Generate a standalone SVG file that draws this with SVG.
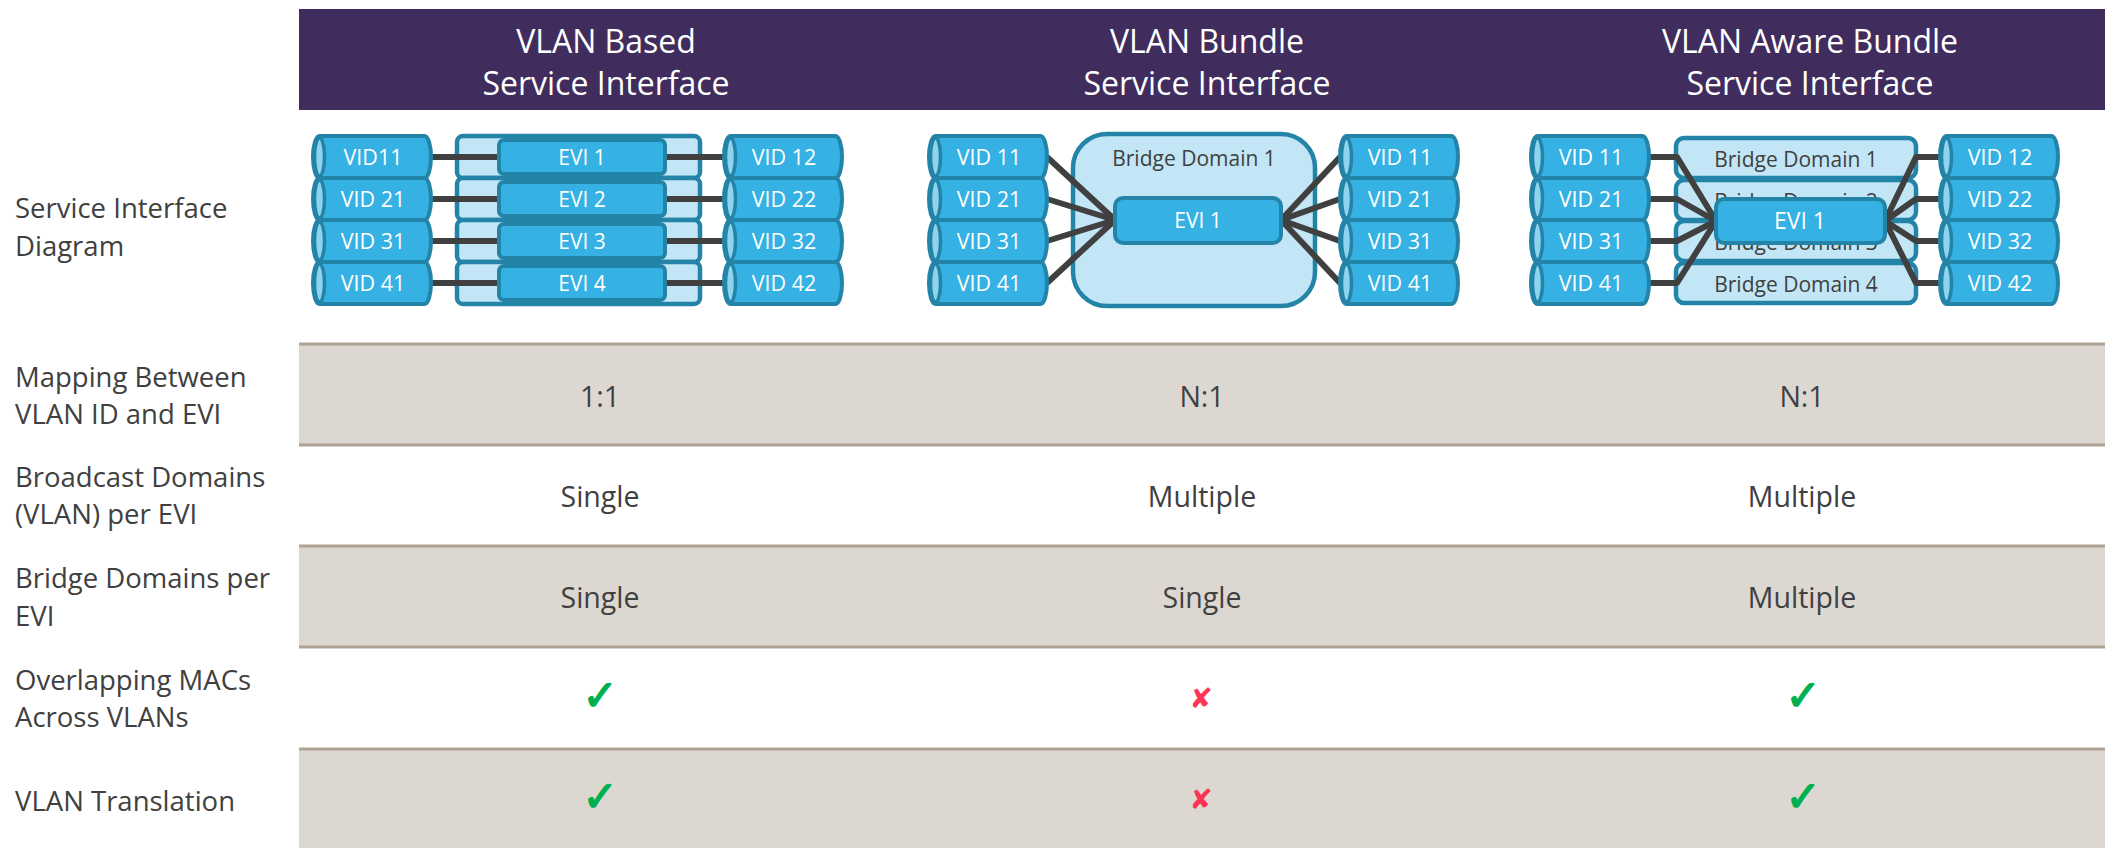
<svg xmlns="http://www.w3.org/2000/svg" width="2112" height="848" viewBox="0 0 2112 848">
<style>
text{font-family:"Open Sans","Liberation Sans",sans-serif;}
.hd{fill:#fff;font-size:32px;text-anchor:middle}
.lb{fill:#404040;font-size:27.5px}
.val{fill:#404040;font-size:28.5px;text-anchor:middle}
.vid{fill:#fff;font-size:21.5px;text-anchor:middle}
.evi{fill:#fff;font-size:21px;text-anchor:middle}
.evb{fill:#fff;font-size:23px;text-anchor:middle}
.bdt{fill:#404040;font-size:21px;text-anchor:middle}
.cyl{fill:#35B1E3;stroke:#2384A8;stroke-width:4}
.cap{fill:#8FD4EF;stroke:#2384A8;stroke-width:3.5}
.box{fill:#C2E6F5;stroke:#2384A8;stroke-width:4.5}
.ebox{fill:#35B1E3;stroke:#2384A8;stroke-width:4}
.ln{stroke:#404040;stroke-width:6;fill:none;stroke-linejoin:round}
.row{fill:#DCD8D1}
.rl{stroke:#AEA294;stroke-width:3}
.ok{fill:#00B050;stroke:#00B050;stroke-width:1.6;font-family:"DejaVu Sans",sans-serif;font-size:42px;text-anchor:middle}
.no{fill:#FF3355;font-family:"DejaVu Sans",sans-serif;font-size:28px;text-anchor:middle}
</style>
<defs>
<g id="cylinder">
<path class="cyl" d="M6.5,0 H111.5 A6.5,21 0 0 1 111.5,42 H6.5 A6.5,21 0 0 1 6.5,0 Z"/>
<ellipse class="cap" cx="6.5" cy="21" rx="5" ry="19"/>
</g>
</defs>

<g id="table">
<rect x="299" y="9" width="1806" height="101" fill="#412D5D"/>
<rect class="row" x="299" y="344" width="1806" height="101"/>
<rect class="row" x="299" y="546" width="1806" height="101"/>
<rect class="row" x="299" y="749" width="1806" height="99"/>
<line class="rl" x1="299" y1="344" x2="2105" y2="344"/>
<line class="rl" x1="299" y1="445" x2="2105" y2="445"/>
<line class="rl" x1="299" y1="546" x2="2105" y2="546"/>
<line class="rl" x1="299" y1="647" x2="2105" y2="647"/>
<line class="rl" x1="299" y1="749" x2="2105" y2="749"/>
</g>

<g id="headers">
<text class="hd" x="606" y="53">VLAN Based</text>
<text class="hd" x="606" y="95">Service Interface</text>
<text class="hd" x="1207" y="53">VLAN Bundle</text>
<text class="hd" x="1207" y="95">Service Interface</text>
<text class="hd" x="1810" y="53">VLAN Aware Bundle</text>
<text class="hd" x="1810" y="95">Service Interface</text>
</g>

<g id="labels">
<text class="lb" x="15" y="218">Service Interface</text>
<text class="lb" x="15" y="256">Diagram</text>
<text class="lb" x="15" y="387">Mapping Between</text>
<text class="lb" x="15" y="424">VLAN ID and EVI</text>
<text class="lb" x="15" y="487">Broadcast Domains</text>
<text class="lb" x="15" y="524">(VLAN) per EVI</text>
<text class="lb" x="15" y="588">Bridge Domains per</text>
<text class="lb" x="15" y="626">EVI</text>
<text class="lb" x="15" y="690">Overlapping MACs</text>
<text class="lb" x="15" y="727">Across VLANs</text>
<text class="lb" x="15" y="811">VLAN Translation</text>
</g>

<g id="values">
<text class="val" x="600" y="407">1:1</text>
<text class="val" x="1202" y="407">N:1</text>
<text class="val" x="1802" y="407">N:1</text>
<text class="val" x="600" y="507">Single</text>
<text class="val" x="1202" y="507">Multiple</text>
<text class="val" x="1802" y="507">Multiple</text>
<text class="val" x="600" y="608">Single</text>
<text class="val" x="1202" y="608">Single</text>
<text class="val" x="1802" y="608">Multiple</text>
<text class="ok" x="600" y="710">✓</text>
<text class="no" x="1201" y="708">✘</text>
<text class="ok" x="1803" y="710">✓</text>
<text class="ok" x="600" y="811">✓</text>
<text class="no" x="1201" y="809">✘</text>
<text class="ok" x="1803" y="811">✓</text>
</g>

<!-- Column 1 containers -->
<g id="c1-container">
<rect class="box" x="457" y="136" width="243" height="42" rx="6"/>
<rect class="box" x="457" y="178" width="243" height="42" rx="6"/>
<rect class="box" x="457" y="220" width="243" height="42" rx="6"/>
<rect class="box" x="457" y="262" width="243" height="42" rx="6"/>
</g>
<!-- Column 2 bridge domain -->
<g id="c2-bd1">
<rect class="box" x="1073" y="134" width="242" height="172" rx="34"/>
<text class="bdt" x="1194" y="166">Bridge Domain 1</text>
</g>
<!-- Column 3 bridge domains -->
<g id="c3-bd1"><rect class="box" x="1676" y="138" width="240" height="40" rx="8"/><text class="bdt" x="1796" y="167">Bridge Domain 1</text></g>
<g id="c3-bd2"><rect class="box" x="1676" y="180" width="240" height="40" rx="8"/><text class="bdt" x="1796" y="209">Bridge Domain 2</text></g>
<g id="c3-bd3"><rect class="box" x="1676" y="221" width="240" height="40" rx="8"/><text class="bdt" x="1796" y="250">Bridge Domain 3</text></g>
<g id="c3-bd4"><rect class="box" x="1676" y="263" width="240" height="40" rx="8"/><text class="bdt" x="1796" y="292">Bridge Domain 4</text></g>

<g id="connectors">
<path class="ln" d="M431,157 H499"/>
<path class="ln" d="M431,199 H499"/>
<path class="ln" d="M431,241 H499"/>
<path class="ln" d="M431,283 H499"/>
<path class="ln" d="M665,157 H724"/>
<path class="ln" d="M665,199 H724"/>
<path class="ln" d="M665,241 H724"/>
<path class="ln" d="M665,283 H724"/>

<path class="ln" d="M1047,157 L1115,220"/>
<path class="ln" d="M1047,199 L1115,220"/>
<path class="ln" d="M1047,241 L1115,220"/>
<path class="ln" d="M1047,283 L1115,220"/>
<path class="ln" d="M1281,220 L1340,157"/>
<path class="ln" d="M1281,220 L1340,199"/>
<path class="ln" d="M1281,220 L1340,241"/>
<path class="ln" d="M1281,220 L1340,283"/>

<path class="ln" d="M1649,157 H1677 L1716,221"/>
<path class="ln" d="M1649,199 H1677 L1716,221"/>
<path class="ln" d="M1649,241 H1677 L1716,221"/>
<path class="ln" d="M1649,283 H1677 L1716,221"/>
<path class="ln" d="M1885,221 L1916,157 H1940"/>
<path class="ln" d="M1885,221 L1916,199 H1940"/>
<path class="ln" d="M1885,221 L1916,241 H1940"/>
<path class="ln" d="M1885,221 L1916,283 H1940"/>
</g>

<!-- Column 1 EVIs -->
<g id="c1-evi1"><rect class="ebox" x="499" y="140" width="166" height="34" rx="5"/><text class="evi" x="582" y="164.5">EVI 1</text></g>
<g id="c1-evi2"><rect class="ebox" x="499" y="182" width="166" height="34" rx="5"/><text class="evi" x="582" y="206.5">EVI 2</text></g>
<g id="c1-evi3"><rect class="ebox" x="499" y="224" width="166" height="34" rx="5"/><text class="evi" x="582" y="248.5">EVI 3</text></g>
<g id="c1-evi4"><rect class="ebox" x="499" y="266" width="166" height="34" rx="5"/><text class="evi" x="582" y="290.5">EVI 4</text></g>

<g id="c2-evi1"><rect class="ebox" x="1115" y="198" width="166" height="45" rx="8"/><text class="evi" x="1198" y="228">EVI 1</text></g>
<g id="c3-evi1"><rect class="ebox" x="1716" y="199" width="169" height="44" rx="8"/><text class="evb" x="1800" y="229">EVI 1</text></g>

<!-- Column 1 VIDs -->
<g id="c1-vid11"><use href="#cylinder" x="313" y="136"/><text class="vid" x="373" y="164.5">VID11</text></g>
<g id="c1-vid21"><use href="#cylinder" x="313" y="178"/><text class="vid" x="373" y="206.5">VID 21</text></g>
<g id="c1-vid31"><use href="#cylinder" x="313" y="220"/><text class="vid" x="373" y="248.5">VID 31</text></g>
<g id="c1-vid41"><use href="#cylinder" x="313" y="262"/><text class="vid" x="373" y="290.5">VID 41</text></g>
<g id="c1-vid12"><use href="#cylinder" x="724" y="136"/><text class="vid" x="784" y="164.5">VID 12</text></g>
<g id="c1-vid22"><use href="#cylinder" x="724" y="178"/><text class="vid" x="784" y="206.5">VID 22</text></g>
<g id="c1-vid32"><use href="#cylinder" x="724" y="220"/><text class="vid" x="784" y="248.5">VID 32</text></g>
<g id="c1-vid42"><use href="#cylinder" x="724" y="262"/><text class="vid" x="784" y="290.5">VID 42</text></g>

<!-- Column 2 VIDs -->
<g id="c2-vid11l"><use href="#cylinder" x="929" y="136"/><text class="vid" x="989" y="164.5">VID 11</text></g>
<g id="c2-vid21l"><use href="#cylinder" x="929" y="178"/><text class="vid" x="989" y="206.5">VID 21</text></g>
<g id="c2-vid31l"><use href="#cylinder" x="929" y="220"/><text class="vid" x="989" y="248.5">VID 31</text></g>
<g id="c2-vid41l"><use href="#cylinder" x="929" y="262"/><text class="vid" x="989" y="290.5">VID 41</text></g>
<g id="c2-vid11r"><use href="#cylinder" x="1340" y="136"/><text class="vid" x="1400" y="164.5">VID 11</text></g>
<g id="c2-vid21r"><use href="#cylinder" x="1340" y="178"/><text class="vid" x="1400" y="206.5">VID 21</text></g>
<g id="c2-vid31r"><use href="#cylinder" x="1340" y="220"/><text class="vid" x="1400" y="248.5">VID 31</text></g>
<g id="c2-vid41r"><use href="#cylinder" x="1340" y="262"/><text class="vid" x="1400" y="290.5">VID 41</text></g>

<!-- Column 3 VIDs -->
<g id="c3-vid11"><use href="#cylinder" x="1531" y="136"/><text class="vid" x="1591" y="164.5">VID 11</text></g>
<g id="c3-vid21"><use href="#cylinder" x="1531" y="178"/><text class="vid" x="1591" y="206.5">VID 21</text></g>
<g id="c3-vid31"><use href="#cylinder" x="1531" y="220"/><text class="vid" x="1591" y="248.5">VID 31</text></g>
<g id="c3-vid41"><use href="#cylinder" x="1531" y="262"/><text class="vid" x="1591" y="290.5">VID 41</text></g>
<g id="c3-vid12"><use href="#cylinder" x="1940" y="136"/><text class="vid" x="2000" y="164.5">VID 12</text></g>
<g id="c3-vid22"><use href="#cylinder" x="1940" y="178"/><text class="vid" x="2000" y="206.5">VID 22</text></g>
<g id="c3-vid32"><use href="#cylinder" x="1940" y="220"/><text class="vid" x="2000" y="248.5">VID 32</text></g>
<g id="c3-vid42"><use href="#cylinder" x="1940" y="262"/><text class="vid" x="2000" y="290.5">VID 42</text></g>
</svg>
